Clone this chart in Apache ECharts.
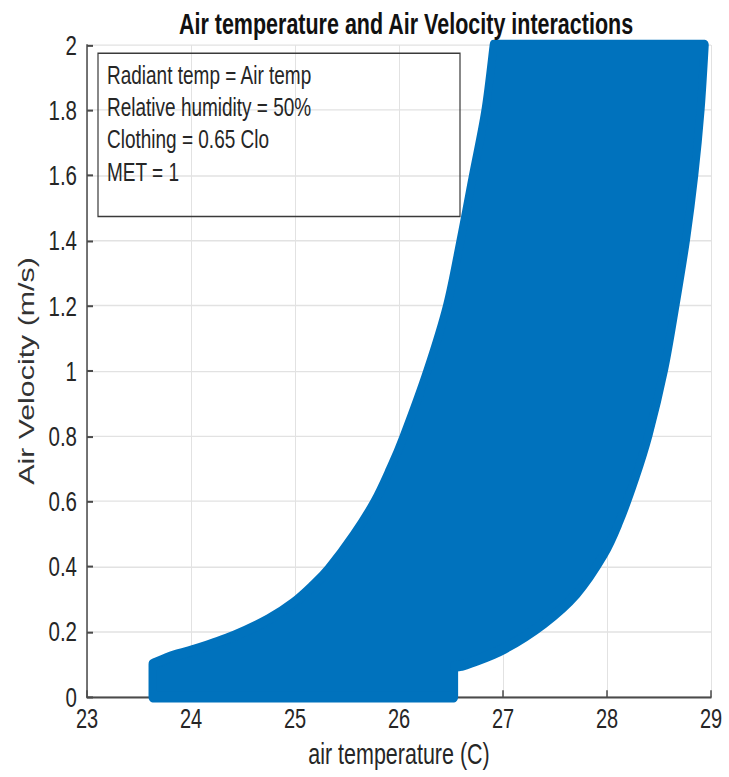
<!DOCTYPE html>
<html>
<head>
<meta charset="utf-8">
<script src="https://cdn.jsdelivr.net/npm/echarts@6/dist/echarts.min.js"></script>
<style>
  html, body { margin: 0; padding: 0; background: #ffffff; }
  #page { width: 729px; height: 777px; position: relative; }
  /* The figure is drawn at a shorter height and stretched vertically,
     giving the tall, narrow lettering of the exported plot. */
  #chart {
    position: absolute;
    left: 0;
    top: 0;
    width: 729px;
    height: 576px;
    transform: scaleY(1.349);
    transform-origin: 0 0;
  }
</style>
</head>
<body>
<div id="page"><div id="chart"></div></div>
<script>
// Comfort band: for each air velocity, the coolest and warmest acceptable air temperature.
// Cool limit, listed from still air upwards.
const coolLimitTemp = [23.63, 23.63, 23.83, 24.03, 24.41, 24.74, 24.98, 25.17, 25.32, 25.56, 25.76, 25.91, 26.04, 26.27, 26.46, 26.59, 26.71, 26.83, 26.91];
const coolLimitVel  = [0.000, 0.100, 0.126, 0.144, 0.187, 0.237, 0.287, 0.341, 0.391, 0.494, 0.596, 0.696, 0.795, 0.998, 1.198, 1.398, 1.598, 1.798, 2.000];
// Warm limit, listed from still air upwards.
const warmLimitTemp = [26.53, 26.53, 26.60, 26.70, 27.02, 27.40, 27.71, 27.97, 28.12, 28.27, 28.40, 28.55, 28.66, 28.76, 28.84, 28.90, 28.94];
const warmLimitVel  = [0.000, 0.094, 0.097, 0.107, 0.150, 0.228, 0.318, 0.438, 0.540, 0.671, 0.805, 1.006, 1.205, 1.404, 1.603, 1.802, 2.000];

// Axis ranges and tick spacing
const tempRange = [23, 29];
const tempStep = 1;
const velRange = [0, 2];
const velStep = 0.2;

// Conditions shown in the note box
const noteLines = [
  'Radiant temp = Air temp',
  'Relative humidity = 50%',
  'Clothing = 0.65 Clo',
  'MET = 1'
];

const titleText = 'Air temperature and Air Velocity interactions';
const xName = 'air temperature (C)';
const yName = 'Air Velocity (m/s)';

const FONT = '"Liberation Sans", Arial, Helvetica, sans-serif';
const BLUE = '#0072BD';
const AXIS = '#4a4a4a';
const GRID = '#e2e2e2';
const TXT = '#262626';

// Catmull-Rom style cubic segments through a run of pixel points (drawing only).
function curveThrough(pts) {
  let d = '';
  const n = pts.length;
  for (let i = 0; i < n - 1; i++) {
    const p0 = pts[Math.max(i - 1, 0)];
    const p1 = pts[i];
    const p2 = pts[i + 1];
    const p3 = pts[Math.min(i + 2, n - 1)];
    const c1x = p1[0] + (p2[0] - p0[0]) / 6;
    const c1y = p1[1] + (p2[1] - p0[1]) / 6;
    const c2x = p2[0] - (p3[0] - p1[0]) / 6;
    const c2y = p2[1] - (p3[1] - p1[1]) / 6;
    d += ' C' + c1x + ',' + c1y + ' ' + c2x + ',' + c2y + ' ' + p2[0] + ',' + p2[1];
  }
  return d;
}

const chart = echarts.init(document.getElementById('chart'), null, { renderer: 'svg' });

chart.setOption({
  animation: false,
  backgroundColor: '#ffffff',
  title: {
    text: titleText,
    left: 401,
    textAlign: 'center',
    top: 1.5,
    textStyle: { fontFamily: FONT, fontSize: 21.5, fontWeight: 'bold', color: '#111111' }
  },
  grid: { left: 87, right: 18, top: 33.4, bottom: 59.3, containLabel: false },
  xAxis: {
    type: 'value',
    min: tempRange[0],
    max: tempRange[1],
    interval: tempStep,
    name: xName,
    nameLocation: 'middle',
    nameGap: 30,
    nameTextStyle: { fontFamily: FONT, fontSize: 21.5, color: TXT },
    axisLine: { show: true, onZero: false, lineStyle: { color: AXIS, width: 1.5 } },
    axisTick: { show: true, inside: true, length: 5, lineStyle: { color: AXIS, width: 1.5 } },
    axisLabel: { fontFamily: FONT, fontSize: 20, color: TXT, margin: 6 },
    splitLine: { show: true, lineStyle: { color: GRID, width: 1 } }
  },
  yAxis: {
    type: 'value',
    min: velRange[0],
    max: velRange[1],
    interval: velStep,
    name: yName,
    nameLocation: 'middle',
    nameGap: 43,
    nameTextStyle: { fontFamily: FONT, fontSize: 22.5, color: '#333333' },
    axisLine: { show: true, onZero: false, lineStyle: { color: AXIS, width: 1.5 } },
    axisTick: { show: true, inside: true, length: 6, lineStyle: { color: AXIS, width: 1.5 } },
    axisLabel: { fontFamily: FONT, fontSize: 20.5, color: TXT, margin: 10 },
    splitLine: { show: true, lineStyle: { color: GRID, width: 1 } }
  },
  graphic: [
    {
      type: 'rect',
      left: 95.5,
      top: 37,
      shape: { width: 362, height: 121 },
      style: { fill: 'none', stroke: '#3a3a3a', lineWidth: 1.2 },
      z: 10
    },
    {
      type: 'text',
      left: 107,
      top: 43.6,
      style: {
        text: noteLines.join('\n'),
        fontFamily: FONT,
        fontSize: 19,
        lineHeight: 24,
        fill: TXT
      },
      z: 10
    }
  ],
  series: [
    {
      type: 'custom',
      name: 'comfort band',
      coordinateSystem: 'cartesian2d',
      clip: false,
      data: [[coolLimitTemp[0], coolLimitVel[0]]],
      renderItem: function (params, api) {
        const cool = coolLimitTemp.map((t, i) => api.coord([t, coolLimitVel[i]]));
        const warm = warmLimitTemp.map((t, i) => api.coord([t, warmLimitVel[i]]));
        // cool side: straight up from still air to the first corner, then curved to the top
        let d = 'M' + cool[0][0] + ',' + cool[0][1];
        d += ' L' + cool[1][0] + ',' + cool[1][1];
        d += curveThrough(cool.slice(1));
        // across the top, then down the warm side to its ledge, then to the floor
        const warmDown = warm.slice(1).reverse();
        d += ' L' + warmDown[0][0] + ',' + warmDown[0][1];
        d += curveThrough(warmDown);
        d += ' L' + warm[0][0] + ',' + warm[0][1] + ' Z';
        return {
          type: 'path',
          shape: { pathData: d },
          style: { fill: BLUE, stroke: BLUE, lineWidth: 8, lineJoin: 'round' }
        };
      },
      z: 5
    }
  ]
});
</script>
</body>
</html>
